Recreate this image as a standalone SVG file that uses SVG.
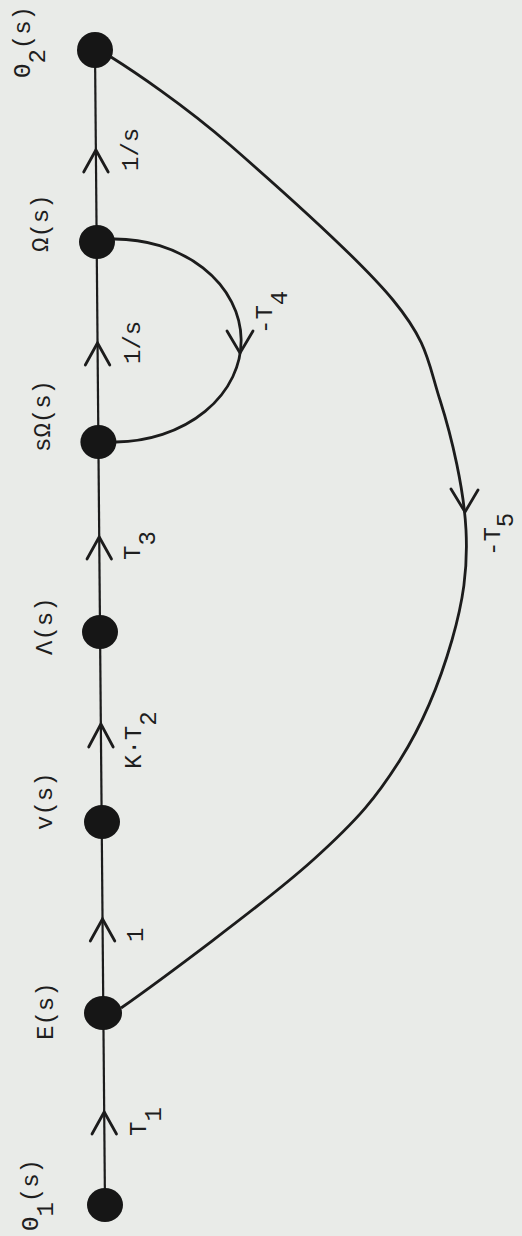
<svg xmlns="http://www.w3.org/2000/svg" width="522" height="1236" viewBox="0 0 522 1236">
<style>
.bg{fill:#e9ebe8}
.node{fill:#161616}
.edge{fill:none;stroke:#1c1c1c;stroke-width:2.2}
.arc{fill:none;stroke:#1c1c1c;stroke-width:2.8}
.head{fill:none;stroke:#1c1c1c;stroke-width:2.8;stroke-linecap:round;stroke-linejoin:miter}
.lbl{font-family:"Liberation Mono","DejaVu Sans Mono",monospace;font-size:24px;fill:#1e1e1e}
</style>
<rect class="bg" x="0" y="0" width="522" height="1236"/>
<g id="connectors">
  <line class="edge" x1="105" y1="1205" x2="95" y2="50"/>
  <path class="arc" d="M 113 239 A 126 101 0 0 1 116 442"/>
  <path class="arc" d="M 111 57 C 131.7 70 183.2 104.2 230 145 C 276.8 185.8 358 257.5 393 300 C 428 342.5 427.8 361.7 440 400 C 452.2 438.3 464 490 466 530 C 468 570 463 601.7 452 640 C 441 678.3 423.2 723.3 400 760 C 376.8 796.7 359.3 818.3 313 860 C 266.7 901.7 153.8 985 121 1008"/>
  <path class="head" d="M 92 1134 L 104.2 1112 L 116.5 1134"/>
  <path class="head" d="M 90.3 941 L 102.5 919 L 114.8 941"/>
  <path class="head" d="M 88.7 747 L 100.9 724 L 113.2 747"/>
  <path class="head" d="M 87 559 L 99.2 537 L 111.5 559"/>
  <path class="head" d="M 85.3 365 L 97.5 343 L 109.8 365"/>
  <path class="head" d="M 83.7 172 L 95.9 150 L 108.2 172"/>
  <path class="head" d="M 227 331 L 240 353 L 253 331"/>
  <path class="head" d="M 451 489 L 465 512 L 478 490"/>
</g>
<g id="edge-labels" class="lbl">
  <text transform="translate(146,1136) rotate(-90)">T<tspan dy="15">1</tspan></text>
  <text transform="translate(143,942) rotate(-90)">1</text>
  <text transform="translate(141,769) rotate(-90)">K·T<tspan dy="15">2</tspan></text>
  <text transform="translate(140,560) rotate(-90)">T<tspan dy="15">3</tspan></text>
  <text transform="translate(140,364) rotate(-90)">1/s</text>
  <text transform="translate(138,171) rotate(-90)">1/s</text>
  <text transform="translate(272,334) rotate(-90)">-T<tspan dy="15">4</tspan></text>
  <text transform="translate(500,556) rotate(-90)">-T<tspan dy="13">5</tspan></text>
</g>
<g id="node-theta1">
  <ellipse class="node" cx="105" cy="1205" rx="18" ry="17"/>
  <text class="lbl" transform="translate(38,1231) rotate(-90)">Θ<tspan dy="15">1</tspan><tspan dy="-15">(s)</tspan></text>
</g>
<g id="node-E">
  <ellipse class="node" cx="103" cy="1013" rx="19" ry="17"/>
  <text class="lbl" transform="translate(53,1040) rotate(-90)">E(s)</text>
</g>
<g id="node-v">
  <ellipse class="node" cx="102" cy="822" rx="18" ry="17"/>
  <text class="lbl" transform="translate(52,830) rotate(-90)">v(s)</text>
</g>
<g id="node-lambda">
  <ellipse class="node" cx="100" cy="632" rx="18" ry="17"/>
  <text class="lbl" transform="translate(52,655) rotate(-90)">Λ(s)</text>
</g>
<g id="node-sOmega">
  <ellipse class="node" cx="98.4" cy="442" rx="18" ry="17"/>
  <text class="lbl" transform="translate(50,452) rotate(-90)">sΩ(s)</text>
</g>
<g id="node-Omega">
  <ellipse class="node" cx="97" cy="242" rx="18" ry="17"/>
  <text class="lbl" transform="translate(48,252) rotate(-90)">Ω(s)</text>
</g>
<g id="node-theta2">
  <ellipse class="node" cx="95" cy="50" rx="18" ry="18"/>
  <text class="lbl" transform="translate(30,78) rotate(-90)">Θ<tspan dy="15">2</tspan><tspan dy="-15">(s)</tspan></text>
</g>
</svg>
